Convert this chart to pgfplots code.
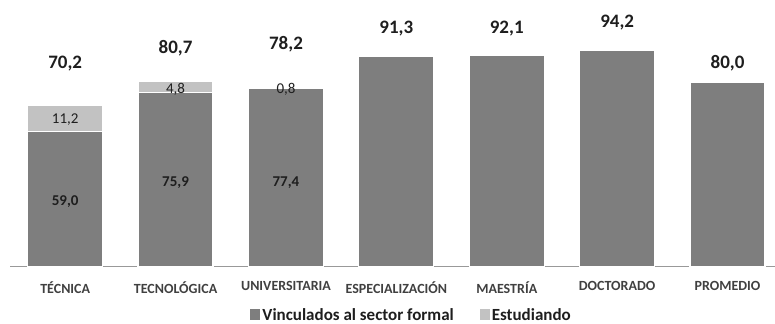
\documentclass[border=0pt]{standalone}
\usepackage{pgfplots}
\pgfplotsset{compat=1.18}
\usepackage{fontspec}
\setmainfont{Carlito}
\definecolor{mainbar}{HTML}{7E7E7E}
\definecolor{studbar}{HTML}{C2C2C2}
\definecolor{txt}{HTML}{1E1E1E}
\pgfplotsset{
  common/.style={
    scale only axis, width=765pt, height=267pt,
    xmin=-0.5, xmax=6.43, ymin=0, ymax=116,
    at={(0,0)}, anchor=south west,
  }
}
\begin{document}
\begin{tikzpicture}
\begin{axis}[common, name=ax,
  ybar stacked, bar width=75pt,
  axis x line=bottom, axis y line=none,
  axis line style={draw=gray!80, line width=1pt, -},
  xtick={0,...,6}, major tick length=0pt,
  xticklabels={TÉCNICA,TECNOLÓGICA,UNIVERSITARIA,ESPECIALIZACIÓN,MAESTRÍA,DOCTORADO,PROMEDIO},
  xticklabel style={font=\fontsize{14}{16}\selectfont\bfseries, text=txt!85, yshift=-11pt},
  legend columns=2,
  legend style={draw=none, at={(0.525,-0.18)}, anchor=center,
    font=\fontsize{17}{19}\selectfont\bfseries, text=txt},
  legend image code/.code={\fill[#1, draw=none] (0pt,-5pt) rectangle (10pt,6pt);},
]
\addplot[fill=mainbar, draw=white, line width=1.2pt] coordinates {(0,59.0) (1,75.9) (2,77.4) (3,91.3) (4,92.1) (5,94.2) (6,80.0)};
\addlegendentry{Vinculados al sector formal\rule{24pt}{0pt}}
\addplot[fill=studbar, draw=white, line width=1.2pt] coordinates {(0,11.2) (1,4.8) (2,0.8)};
\addlegendentry{Estudiando}
\end{axis}
\begin{axis}[common, hide axis, clip=false]
\addplot[only marks, mark=none, nodes near coords, point meta=explicit symbolic,
  nodes near coords style={anchor=center, font=\fontsize{19}{21}\selectfont\bfseries, text=txt}]
  coordinates {(0,88.5)[70,2] (1,95.2)[80,7] (2,97.0)[78,2] (3,103.5)[91,3] (4,103.5)[92,1] (5,106.3)[94,2] (6,88.5)[80,0]};
\addplot[only marks, mark=none, nodes near coords, point meta=explicit symbolic,
  nodes near coords style={anchor=center, font=\fontsize{15}{17}\selectfont\bfseries, text=txt}]
  coordinates {(0,28.3)[59,0] (1,36.5)[75,9] (2,36.5)[77,4]};
\addplot[only marks, mark=none, nodes near coords, point meta=explicit symbolic,
  nodes near coords style={anchor=center, font=\fontsize{15}{17}\selectfont, text=txt}]
  coordinates {(0,63.9)[11,2] (1,77.4)[4,8] (2,77.0)[0,8]};
\end{axis}
\pgfresetboundingbox
\path[use as bounding box] ([xshift=-10pt,yshift=-57pt]ax.south west) rectangle (ax.north east);
\end{tikzpicture}
\end{document}
